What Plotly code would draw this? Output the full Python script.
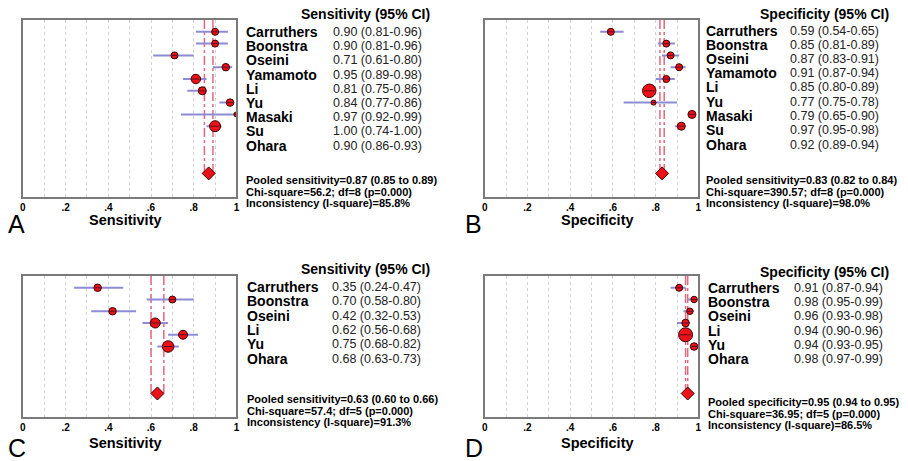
import plotly.graph_objects as go

W, H = 908, 461

# ---------------- data ----------------
studies_1 = ["Carruthers", "Boonstra", "Oseini", "Yamamoto", "Li", "Yu", "Masaki", "Su", "Ohara"]
sens_1 = [0.90, 0.90, 0.71, 0.95, 0.81, 0.84, 0.97, 1.00, 0.90]
sens_1_lo = [0.81, 0.81, 0.61, 0.89, 0.75, 0.77, 0.92, 0.74, 0.86]
sens_1_hi = [0.96, 0.96, 0.80, 0.98, 0.86, 0.86, 0.99, 1.00, 0.93]
sens_1_wt = [7, 7, 7, 7.5, 9.5, 8, 7.5, 5, 11]

spec_1 = [0.59, 0.85, 0.87, 0.91, 0.85, 0.77, 0.79, 0.97, 0.92]
spec_1_lo = [0.54, 0.81, 0.83, 0.87, 0.80, 0.75, 0.65, 0.95, 0.89]
spec_1_hi = [0.65, 0.89, 0.91, 0.94, 0.89, 0.78, 0.90, 0.98, 0.94]
spec_1_wt = [7, 7, 7, 7, 7, 13.5, 5, 8, 8]

studies_2 = ["Carruthers", "Boonstra", "Oseini", "Li", "Yu", "Ohara"]
sens_2 = [0.35, 0.70, 0.42, 0.62, 0.75, 0.68]
sens_2_lo = [0.24, 0.58, 0.32, 0.56, 0.68, 0.63]
sens_2_hi = [0.47, 0.80, 0.53, 0.68, 0.82, 0.73]
sens_2_wt = [7.5, 7, 7.5, 10, 9, 11.5]

spec_2 = [0.91, 0.98, 0.96, 0.94, 0.94, 0.98]
spec_2_lo = [0.87, 0.95, 0.93, 0.90, 0.93, 0.97]
spec_2_hi = [0.94, 0.99, 0.98, 0.96, 0.95, 0.99]
spec_2_wt = [7, 6.5, 6.5, 7.5, 14, 7.5]

pooled_est = [0.87, 0.83, 0.63, 0.95]
pooled_lo = [0.85, 0.82, 0.60, 0.94]
pooled_hi = [0.89, 0.84, 0.66, 0.95]
pooled_word = ["sensitivity", "sensitivity", "sensitivity", "specificity"]
chi_square = [56.2, 390.57, 57.4, 36.95]
dof = [8, 8, 5, 5]
i_square = [85.8, 98.0, 91.3, 86.5]
p_value = ["0.000", "0.000", "0.000", "0.000"]

panel_letters = ["A", "B", "C", "D"]
axis_titles = ["Sensitivity", "Specificity", "Sensitivity", "Specificity"]
col_titles = ["Sensitivity (95% CI)", "Specificity (95% CI)", "Sensitivity (95% CI)", "Specificity (95% CI)"]
tick_vals = [0, 0.1, 0.2, 0.3, 0.4, 0.5, 0.6, 0.7, 0.8, 0.9, 1.0]
tick_text = ["0", "", ".2", "", ".4", "", ".6", "", ".8", "", "1"]

panels_data = [
    (studies_1, sens_1, sens_1_lo, sens_1_hi, sens_1_wt),
    (studies_1, spec_1, spec_1_lo, spec_1_hi, spec_1_wt),
    (studies_2, sens_2, sens_2_lo, sens_2_hi, sens_2_wt),
    (studies_2, spec_2, spec_2_lo, spec_2_hi, spec_2_wt),
]

# ---------------- layout geometry (pixels) ----------------
geom = [
    dict(box=(20, 235, 20, 197), title_x=432, title_y=14, name_x=243, val_x=330, row_y=32, row_dy=14.2,
         stat_y=180, stat_dy=11.6, letter=(3, 224), axt=(123, 220)),
    dict(box=(485, 700, 20, 197), title_x=894, title_y=14, name_x=706, val_x=790, row_y=30.5, row_dy=14.25,
         stat_y=180, stat_dy=11.6, letter=(463, 224), axt=(598, 220)),
    dict(box=(20, 235, 276, 417), title_x=432, title_y=269, name_x=244, val_x=329, row_y=287, row_dy=14.3,
         stat_y=399, stat_dy=11.6, letter=(3, 448), axt=(123, 443)),
    dict(box=(485, 700, 276, 417), title_x=894, title_y=272, name_x=708, val_x=794, row_y=288, row_dy=14.2,
         stat_y=402, stat_dy=11.6, letter=(463, 448), axt=(598, 443)),
]

FONT = "Liberation Sans, Arial, sans-serif"
CI_COLOR = "#8c8cd6"
RED = "#ec1018"
DARK = "#3a0000"
POOL_COLOR = "#e2687e"


def px(x):
    return x / W


def py(y):
    return 1 - y / H


fig = go.Figure()
annotations = []

for i, ((names, est, lo, hi, wt), g) in enumerate(zip(panels_data, geom)):
    k = i + 1
    xa = "x" if k == 1 else f"x{k}"
    ya = "y" if k == 1 else f"y{k}"
    n = len(names)
    rows = list(range(1, n + 1))
    diamond_row = n + 4

    # pooled CI vertical lines
    for v in (pooled_lo[i], pooled_hi[i]):
        fig.add_trace(go.Scatter(x=[v, v], y=[0, diamond_row], mode="lines",
                                 line=dict(color=POOL_COLOR, width=1.5, dash="dashdot"),
                                 xaxis=xa, yaxis=ya, showlegend=False, hoverinfo="skip"))
    # CI lines
    xs, ys = [], []
    for r, l, h in zip(rows, lo, hi):
        xs += [l, h, None]
        ys += [r, r, None]
    fig.add_trace(go.Scatter(x=xs, y=ys, mode="lines", line=dict(color=CI_COLOR, width=2),
                             xaxis=xa, yaxis=ya, showlegend=False, hoverinfo="skip"))
    # study markers
    fig.add_trace(go.Scatter(x=est, y=rows, mode="markers",
                             marker=dict(symbol="circle", size=wt, color=RED, opacity=1,
                                         line=dict(color=DARK, width=1)),
                             xaxis=xa, yaxis=ya, showlegend=False))
    fig.add_trace(go.Scatter(x=est, y=rows, mode="markers",
                             marker=dict(symbol="line-ew", size=[w * 0.55 for w in wt], opacity=1,
                                         color="#5a1020", line=dict(color="#5a1020", width=1)),
                             xaxis=xa, yaxis=ya, showlegend=False, hoverinfo="skip"))
    # pooled diamond
    fig.add_trace(go.Scatter(x=[pooled_est[i]], y=[diamond_row], mode="markers",
                             marker=dict(symbol="diamond", size=10, color=RED, opacity=1,
                                         line=dict(color=DARK, width=1)),
                             xaxis=xa, yaxis=ya, showlegend=False))

    x0, x1, y0, y1 = g["box"]
    fig.update_layout(**{
        ("xaxis" if k == 1 else f"xaxis{k}"): dict(
            domain=[px(x0), px(x1)], anchor=ya, range=[0, 1],
            tickvals=tick_vals, ticktext=tick_text, ticks="",
            showgrid=True, gridcolor="#d2d2d2", griddash="dot", gridwidth=1,
            showline=True, mirror=True, linecolor="#7a7a7a", linewidth=2,
            zeroline=False, tickfont=dict(family=FONT, size=10, color="black", weight="bold"),
            fixedrange=True),
        ("yaxis" if k == 1 else f"yaxis{k}"): dict(
            domain=[py(y1), py(y0)], anchor=xa, range=[n + 6, 0],
            showticklabels=False, ticks="", showgrid=False, zeroline=False,
            showline=True, mirror=True, linecolor="#7a7a7a", linewidth=2, fixedrange=True),
    })

    # column title
    annotations.append(dict(text=col_titles[i], x=px(g["title_x"]), y=py(g["title_y"]),
                            xref="paper", yref="paper", xanchor="right", yanchor="middle",
                            showarrow=False, font=dict(family=FONT, size=14, color="black", weight="bold")))
    # study rows
    for j, (nm, e, l, h) in enumerate(zip(names, est, lo, hi)):
        yy = py(g["row_y"] + j * g["row_dy"])
        annotations.append(dict(text=nm, x=px(g["name_x"]), y=yy, xref="paper", yref="paper",
                                xanchor="left", yanchor="middle", showarrow=False,
                                font=dict(family=FONT, size=14, color="black", weight="bold")))
        annotations.append(dict(text=f"{e:.2f} ({l:.2f}-{h:.2f})", x=px(g["val_x"]), y=yy,
                                xref="paper", yref="paper", xanchor="left", yanchor="middle",
                                showarrow=False, font=dict(family=FONT, size=12.5, color="#222222")))
    # stats
    stats = [
        f"Pooled {pooled_word[i]}={pooled_est[i]:.2f} ({pooled_lo[i]:.2f} to {pooled_hi[i]:.2f})",
        f"Chi-square={chi_square[i]}; df={dof[i]} (p={p_value[i]})",
        f"Inconsistency (I-square)={i_square[i]:.1f}%",
    ]
    for j, s in enumerate(stats):
        annotations.append(dict(text=s, x=px(g["name_x"]), y=py(g["stat_y"] + j * g["stat_dy"]),
                                xref="paper", yref="paper", xanchor="left", yanchor="middle",
                                showarrow=False,
                                font=dict(family=FONT, size=11, color="black", weight="bold")))
    # panel letter
    annotations.append(dict(text=panel_letters[i], x=px(g["letter"][0]), y=py(g["letter"][1]),
                            xref="paper", yref="paper", xanchor="left", yanchor="middle",
                            showarrow=False, font=dict(family=FONT, size=25, color="black")))
    # axis title
    annotations.append(dict(text=axis_titles[i], x=px(g["axt"][0]), y=py(g["axt"][1]),
                            xref="paper", yref="paper", xanchor="center", yanchor="middle",
                            showarrow=False, font=dict(family=FONT, size=14.5, color="black", weight="bold")))

fig.update_layout(width=W, height=H, margin=dict(l=0, r=0, t=0, b=0),
                  paper_bgcolor="white", plot_bgcolor="white",
                  annotations=annotations, showlegend=False)

fig.write_html("out.html", config={"displayModeBar": False},
               post_script="document.body.style.margin='0px';document.body.style.padding='0px';")
